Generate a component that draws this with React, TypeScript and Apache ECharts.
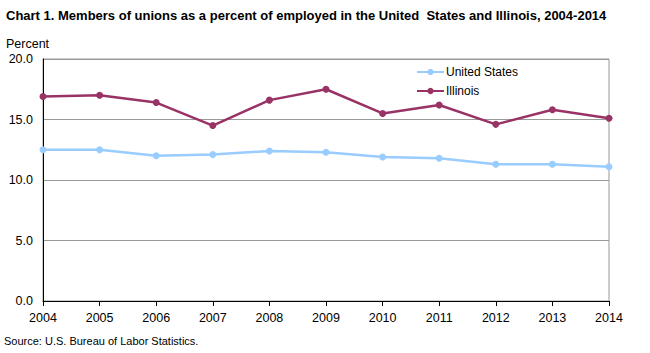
import React, { useEffect, useRef } from "react";
import * as echarts from "echarts";

const years = ["2004", "2005", "2006", "2007", "2008", "2009", "2010", "2011", "2012", "2013", "2014"];
const unitedStates = [12.5, 12.5, 12.0, 12.1, 12.4, 12.3, 11.9, 11.8, 11.3, 11.3, 11.1];
const illinois = [16.9, 17.0, 16.4, 14.5, 16.6, 17.5, 15.5, 16.2, 14.6, 15.8, 15.1];

const FONT = "'Liberation Sans', Arial, sans-serif";

export default function App() {
  const ref = useRef<HTMLDivElement>(null);
  useEffect(() => {
    if (!ref.current) return;
    const chart = echarts.init(ref.current, undefined, { renderer: "svg" });
    chart.setOption({
      animation: false,
      backgroundColor: "#ffffff",
      textStyle: { fontFamily: FONT },
      title: [
        {
          text: "Chart 1. Members of unions as a percent of employed in the United  States and Illinois, 2004-2014",
          left: 6,
          top: 9,
          padding: 0,
          textStyle: { fontSize: 13, fontWeight: "bold", color: "#000", fontFamily: FONT },
        },
        {
          text: "Percent",
          left: 6,
          top: 37,
          padding: 0,
          textStyle: { fontSize: 12.5, fontWeight: "normal", color: "#000", fontFamily: FONT },
        },
        {
          text: "Source: U.S. Bureau of Labor Statistics.",
          left: 4,
          top: 335,
          padding: 0,
          textStyle: { fontSize: 11, fontWeight: "normal", color: "#000", fontFamily: FONT },
        },
      ],
      legend: {
        orient: "vertical",
        left: 416,
        top: 66,
        padding: 0,
        itemWidth: 27,
        itemHeight: 8,
        itemGap: 7,
        textStyle: { fontSize: 12, color: "#000", fontFamily: FONT, padding: [0, 0, 0, -3] },
        data: ["United States", "Illinois"],
      },
      grid: {
        left: 43,
        right: 41,
        top: 59,
        bottom: 52,
        show: true,
        borderColor: "#999",
        borderWidth: 1,
      },
      xAxis: {
        type: "category",
        data: years,
        boundaryGap: false,
        axisLine: { lineStyle: { color: "#000", width: 1 } },
        axisTick: { show: true, length: 5, lineStyle: { color: "#000" } },
        axisLabel: { fontSize: 12.5, color: "#000", margin: 10, fontFamily: FONT },
      },
      yAxis: {
        type: "value",
        min: 0,
        max: 20,
        interval: 5,
        axisLine: { show: true, lineStyle: { color: "#000", width: 1 } },
        axisTick: { show: false },
        axisLabel: {
          fontSize: 12.5,
          color: "#000",
          margin: 10,
          fontFamily: FONT,
          formatter: (v: number) => v.toFixed(1),
        },
        splitLine: { lineStyle: { color: "#999", width: 1 } },
      },
      series: [
        {
          name: "United States",
          type: "line",
          data: unitedStates,
          color: "#99ccff",
          symbol: "circle",
          symbolSize: 7,
          lineStyle: { width: 2.5, color: "#99ccff" },
          itemStyle: { color: "#99ccff" },
        },
        {
          name: "Illinois",
          type: "line",
          data: illinois,
          color: "#993366",
          symbol: "circle",
          symbolSize: 7,
          lineStyle: { width: 2.5, color: "#993366" },
          itemStyle: { color: "#993366" },
        },
      ],
    });
    return () => chart.dispose();
  }, []);
  return (
    <div
      ref={ref}
      style={{ position: "absolute", left: 0, top: 0, width: 650, height: 353 }}
    />
  );
}
